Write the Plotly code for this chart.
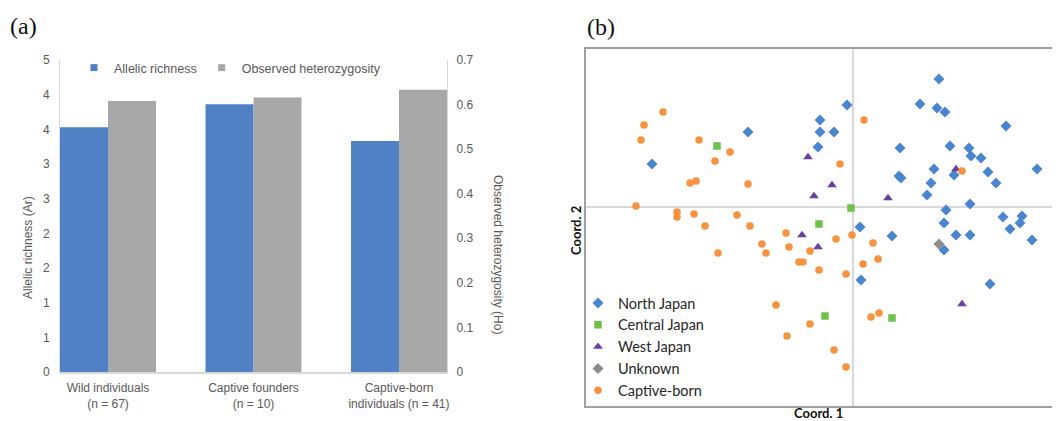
import plotly.graph_objects as go

OFF = 8  # default page body margin of the browser
W, H = 1060 - OFF, 421 - OFF

# ---------------- Panel (a) data ----------------
groups = ["Wild individuals<br>(n = 67)", "Captive founders<br>(n = 10)",
          "Captive-born<br>individuals (n = 41)"]
allelic_richness = [3.53, 3.86, 3.33]
obs_heterozygosity = [0.608, 0.616, 0.633]
ar_tickvals = [0, 0.5, 1, 1.5, 2, 2.5, 3, 3.5, 4, 4.5]
ar_ticktext = ["0", "1", "1", "2", "2", "3", "3", "4", "4", "5"]
ho_tickvals = [0, 0.1, 0.2, 0.3, 0.4, 0.5, 0.6, 0.7]
ho_ticktext = ["0", "0.1", "0.2", "0.3", "0.4", "0.5", "0.6", "0.7"]

# ---------------- Panel (b) data (PCoA coordinates) ----------------
north_x = [0.86, -0.06, 0.67, 0.84, 0.92, -0.33, -1.05, -0.33, -0.19, 1.53,
           -0.35, 0.47, 0.97, 1.16, 1.18, 1.28, -2.01, 0.81, 1.01, 1.35,
           1.84, 0.46, 0.48, 0.78, 1.43, 0.74, 1.17, 0.93, 1.50, 1.69,
           0.91, 1.67, 1.57, 0.07, 0.39, 1.03, 1.17, 1.79, 0.91, 0.08, 1.37]
north_y = [1.28, 1.02, 1.03, 0.99, 0.95, 0.87, 0.75, 0.75, 0.75, 0.81,
           0.60, 0.59, 0.61, 0.59, 0.51, 0.49, 0.43, 0.38, 0.32, 0.35,
           0.38, 0.31, 0.29, 0.24, 0.24, 0.12, 0.03, -0.03, -0.10, -0.09,
           -0.16, -0.16, -0.22, -0.20, -0.29, -0.28, -0.28, -0.33, -0.43, -0.73, -0.77]
central_x = [-1.36, -0.02, -0.34, -0.28, 0.39]
central_y = [0.61, -0.01, -0.17, -1.09, -1.11]
west_x = [-0.45, -0.21, -0.39, 0.35, 1.03, -0.51, -0.35, 1.09]
west_y = [0.50, 0.22, 0.11, 0.09, 0.38, -0.28, -0.40, -0.97]
unknown_x = [0.86]
unknown_y = [-0.37]
captive_x = [-1.90, -2.09, -2.12, -1.54, 0.11, -1.23, -1.38, -0.13, -1.63, -1.57,
             -1.05, 1.09, -2.17, -1.76, -1.76, -1.59, -1.16, -1.48, -1.03, -0.67,
             -0.01, -0.17, 0.20, -0.91, -1.35, -0.87, -0.64, -0.43, 0.25, 0.10,
             -0.54, -0.50, -0.34, -0.07, -0.77, -0.43, 0.18, 0.26, -0.66, -0.19, -0.07]
captive_y = [0.95, 0.82, 0.67, 0.67, 0.87, 0.55, 0.46, 0.43, 0.24, 0.26,
             0.23, 0.36, 0.01, -0.05, -0.10, -0.07, -0.08, -0.19, -0.19, -0.26,
             -0.28, -0.32, -0.36, -0.37, -0.46, -0.46, -0.40, -0.44, -0.52, -0.57,
             -0.55, -0.55, -0.63, -0.67, -0.98, -1.17, -1.10, -1.06, -1.29, -1.43, -1.60]

GRAYTXT = "#595959"
AFONT = "Liberation Sans, Arial, sans-serif"
BFONT = "Lato, Liberation Sans, sans-serif"
BLUE_BAR = "#4f81c4"
GRAY_BAR = "#a6a8a9"


def px_x(p):
    return (p - OFF) / W


def px_y(p):
    return (H - (p - OFF)) / H


fig = go.Figure()

fig.add_trace(go.Bar(x=groups, y=allelic_richness, name="Allelic richness",
                     marker=dict(color=BLUE_BAR, line=dict(width=0)), showlegend=False,
                     offset=-0.33, width=0.33, xaxis="x", yaxis="y"))
fig.add_trace(go.Bar(x=groups, y=obs_heterozygosity, name="Observed heterozygosity",
                     marker=dict(color=GRAY_BAR, line=dict(width=0)), showlegend=False,
                     offset=0.0, width=0.33, xaxis="x", yaxis="y2"))
# legend keys for the bars (small squares, as in the original)
fig.add_trace(go.Scatter(x=[None], y=[None], mode="markers", name="Allelic richness",
                         marker=dict(symbol="square", size=7, color=BLUE_BAR),
                         xaxis="x", yaxis="y", legend="legend"))
fig.add_trace(go.Scatter(x=[None], y=[None], mode="markers", name="Observed heterozygosity",
                         marker=dict(symbol="square", size=7, color=GRAY_BAR),
                         xaxis="x", yaxis="y", legend="legend"))

fig.add_trace(go.Scatter(x=north_x, y=north_y, mode="markers", name="North Japan",
                         marker=dict(symbol="diamond", size=8.5, color="#4a86d0"),
                         xaxis="x3", yaxis="y3", legend="legend2"))
fig.add_trace(go.Scatter(x=central_x, y=central_y, mode="markers", name="Central Japan",
                         marker=dict(symbol="square", size=7.5, color="#6cc24a"),
                         xaxis="x3", yaxis="y3", legend="legend2"))
fig.add_trace(go.Scatter(x=west_x, y=west_y, mode="markers", name="West Japan",
                         marker=dict(symbol="triangle-up", size=8.5, color="#6b3fa0"),
                         xaxis="x3", yaxis="y3", legend="legend2"))
fig.add_trace(go.Scatter(x=unknown_x, y=unknown_y, mode="markers", name="Unknown",
                         marker=dict(symbol="diamond", size=8.5, color="#8c8c8c"),
                         xaxis="x3", yaxis="y3", legend="legend2"))
fig.add_trace(go.Scatter(x=captive_x, y=captive_y, mode="markers", name="Captive-born",
                         marker=dict(symbol="circle", size=7.5, color="#f7923f"),
                         xaxis="x3", yaxis="y3", legend="legend2"))

fig.update_layout(
    template="none",
    width=W, height=H,
    margin=dict(l=0, r=0, t=0, b=0, pad=0, autoexpand=False),
    paper_bgcolor="white", plot_bgcolor="white",
    showlegend=True,
    xaxis=dict(domain=[px_x(60), px_x(447)], range=[-0.33, 2.33], type="category",
               showline=True, linecolor="#d9d9d9", linewidth=1.5, ticks="",
               showgrid=False, zeroline=False, automargin=False, ticklabelstandoff=4,
               tickfont=dict(family=AFONT, size=12, color=GRAYTXT), anchor="y"),
    yaxis=dict(domain=[px_y(372), px_y(60)], range=[0, 4.5], tickvals=ar_tickvals,
               ticktext=ar_ticktext, showgrid=False, zeroline=False, showline=True,
               linecolor="#d9d9d9", linewidth=1, ticks="", automargin=False,
               ticklabelstandoff=7,
               tickfont=dict(family=AFONT, size=12, color=GRAYTXT), anchor="x"),
    yaxis2=dict(overlaying="y", side="right", range=[0, 0.7], tickvals=ho_tickvals,
                ticktext=ho_ticktext, showgrid=False, zeroline=False, showline=True,
                linecolor="#d9d9d9", linewidth=1, ticks="", automargin=False,
                ticklabelstandoff=6,
                tickfont=dict(family=AFONT, size=12, color=GRAYTXT), anchor="x"),
    xaxis3=dict(domain=[px_x(585), px_x(1057)], range=[-2.68, 2.04], showticklabels=False,
                showgrid=False, zeroline=True, zerolinecolor="#d9d9d9", zerolinewidth=1.5,
                showline=False, ticks="", automargin=False, anchor="y3"),
    yaxis3=dict(domain=[px_y(407), px_y(48)], range=[-2.0, 1.59], showticklabels=False,
                showgrid=False, zeroline=True, zerolinecolor="#d9d9d9", zerolinewidth=1.5,
                showline=False, ticks="", automargin=False, anchor="x3"),
    legend=dict(orientation="h", x=px_x(74), y=px_y(68), xanchor="left", yanchor="middle",
                font=dict(family=AFONT, size=12.5, color=GRAYTXT), bgcolor="rgba(0,0,0,0)",
                itemwidth=30),
    legend2=dict(orientation="v", x=px_x(578), y=px_y(287), xanchor="left", yanchor="top",
                 font=dict(family=BFONT, size=14.5, color="#262626"), bgcolor="rgba(0,0,0,0)",
                 tracegroupgap=0, itemwidth=30),
)

# frame of panel (b): its right side runs off the edge of the picture
shapes = [
    dict(type="rect", xref="paper", yref="paper", x0=px_x(585), x1=px_x(1066),
         y0=px_y(407), y1=px_y(48), line=dict(color="#a0a0a0", width=2),
         fillcolor="rgba(0,0,0,0)", layer="above"),
]
fig.update_layout(shapes=shapes)

annotations = [
    dict(text="(a)", x=px_x(8), y=px_y(26), xref="paper", yref="paper", xanchor="left",
         yanchor="middle", showarrow=False,
         font=dict(family="Liberation Serif, DejaVu Serif, serif", size=24, color="#111")),
    dict(text="(b)", x=px_x(585), y=px_y(27), xref="paper", yref="paper", xanchor="left",
         yanchor="middle", showarrow=False,
         font=dict(family="Liberation Serif, DejaVu Serif, serif", size=24, color="#111")),
    dict(text="Allelic richness (Ar)", x=px_x(28), y=px_y(248), xref="paper", yref="paper",
         textangle=-90, showarrow=False, xanchor="center", yanchor="middle",
         font=dict(family=AFONT, size=12, color=GRAYTXT)),
    dict(text="Observed heterozygosity (Ho)", x=px_x(498), y=px_y(254), xref="paper",
         yref="paper", textangle=90, showarrow=False, xanchor="center", yanchor="middle",
         font=dict(family=AFONT, size=12, color=GRAYTXT)),
    dict(text="<b>Coord. 1</b>", x=px_x(818), y=px_y(413), xref="paper", yref="paper",
         showarrow=False, xanchor="center", yanchor="middle",
         font=dict(family=BFONT, size=13, color="#111")),
    dict(text="<b>Coord. 2</b>", x=px_x(576), y=px_y(231), xref="paper", yref="paper",
         textangle=-90, showarrow=False, xanchor="center", yanchor="middle",
         font=dict(family=BFONT, size=13, color="#111")),
]
fig.update_layout(annotations=annotations)

fig.write_html("out.html")
